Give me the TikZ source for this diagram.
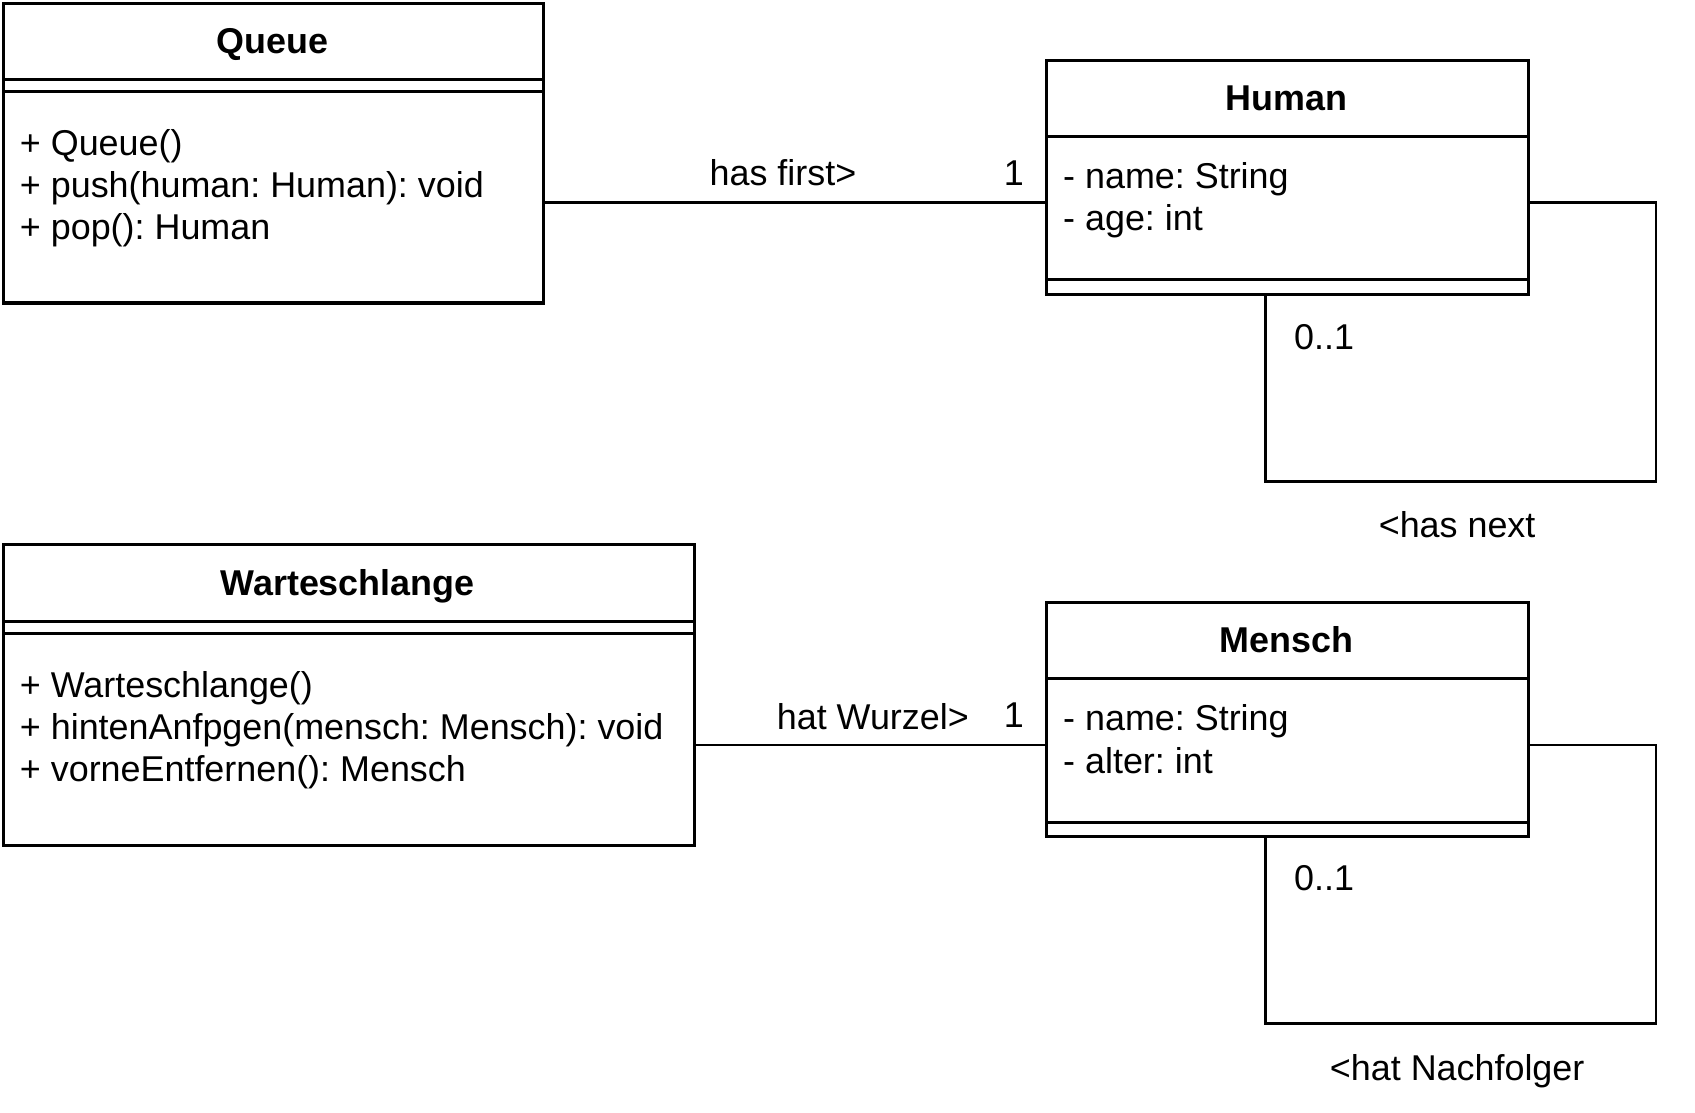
\documentclass[tikz,border=0pt]{standalone}
\usepackage{fontspec}
\setmainfont{Liberation Sans}
\frenchspacing
\begin{document}
\begin{tikzpicture}[x=0.5pt,y=-0.5pt,
  box/.style={draw,line width=1.4pt,rectangle,inner sep=0pt,anchor=north west},
  sep/.style={line width=1.4pt},
  conn/.style={line width=1.2pt},
  txt/.style={inner sep=0pt,anchor=base west,font=\fontsize{16.55}{19.8}\selectfont},
  ttl/.style={inner sep=0pt,anchor=base,font=\fontsize{16.55}{19.8}\selectfont\bfseries}]
\useasboundingbox (0,0) rectangle (1563,1026.3);

% Queue
\node[box,minimum width=249pt,minimum height=138pt] (queue) at (2,2) {};
\draw[sep] (2,73) -- (500,73);
\draw[sep] (2,84) -- (500,84);
\node[ttl] (queuet) at (251,49) {Queue};
\node[txt] (q1) at (18,143) {+ Queue()};
\node[txt] (q2) at (18,182) {+ push(human: Human): void};
\node[txt] (q3) at (18,221) {+ pop(): Human};

% Human
\node[box,minimum width=222pt,minimum height=108pt] (human) at (964,54) {};
\draw[sep] (964,126) -- (1408,126);
\draw[sep] (964,258) -- (1408,258);
\node[ttl] (humant) at (1186,102) {Human};
\node[txt] (h1) at (980,174) {- name: String};
\node[txt] (h2) at (980,213) {- age: int};

% Warteschlange
\node[box,minimum width=318.5pt,minimum height=138.5pt] (warte) at (2,501) {};
\draw[sep] (2,573) -- (639,573);
\draw[sep] (2,584) -- (639,584);
\node[ttl] (wartet) at (320.5,549) {Warteschlange};
\node[txt] (w1) at (18,643) {+ Warteschlange()};
\node[txt] (w2) at (18,682) {+ hintenAnfpgen(mensch: Mensch): void};
\node[txt] (w3) at (18,721) {+ vorneEntfernen(): Mensch};

% Mensch
\node[box,minimum width=222pt,minimum height=108pt] (mensch) at (964,554) {};
\draw[sep] (964,626) -- (1408,626);
\draw[sep] (964,758) -- (1408,758);
\node[ttl] (menscht) at (1186,602) {Mensch};
\node[txt] (m1) at (980,674) {- name: String};
\node[txt] (m2) at (980,713) {- alter: int};

% connectors top
\coordinate (la) at (0,187);
\coordinate (lac) at (1527,444);
\coordinate (lad) at (1167,444);
\draw[conn] (queue.east |- la) -- (human.west |- la);
\draw[conn] (human.east |- la) -- (lac |- la) -- (lac) -- (lad) -- (lad |- human.south);
\node[txt] (hasfirst) at (654,171) {has first>};
\node[txt,anchor=base] (one1) at (935,171) {1};
\node[txt] (zo1) at (1193,322) {0..1};
\node[txt] (hasnext) at (1271,496) {<has next};

% connectors bottom
\coordinate (lb) at (0,687);
\coordinate (lbc) at (1527,944);
\coordinate (lbd) at (1167,944);
\draw[conn] (warte.east |- lb) -- (mensch.west |- lb);
\draw[conn] (mensch.east |- lb) -- (lbc |- lb) -- (lbc) -- (lbd) -- (lbd |- mensch.south);
\node[txt] (hatw) at (716,673) {hat Wurzel>};
\node[txt,anchor=base] (one2) at (935,671) {1};
\node[txt] (zo2) at (1193,821) {0..1};
\node[txt] (hatn) at (1226,996) {<hat Nachfolger};
\end{tikzpicture}
\end{document}
